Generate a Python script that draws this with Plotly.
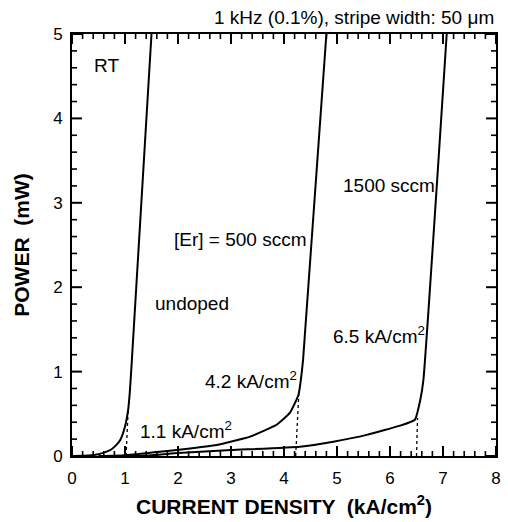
import numpy as np
import plotly.graph_objects as go

# L-I characteristics: output power vs. current density
undoped_j = [0.0, 0.3, 0.5, 0.72, 0.82, 0.91, 1.0, 1.06, 1.09, 1.13, 1.50]
undoped_p = [0.0, 0.005, 0.02, 0.07, 0.12, 0.19, 0.35, 0.55, 0.75, 1.14, 5.0]

er500_j = [0.5, 1.0, 1.5, 2.1, 2.73, 3.36, 3.86, 4.11, 4.27, 4.36, 4.80]
er500_p = [0.0, 0.01, 0.04, 0.08, 0.13, 0.23, 0.37, 0.51, 0.72, 1.14, 5.0]

er1500_j = [0.8, 1.5, 2.0, 3.0, 4.3, 4.93, 5.56, 6.19, 6.47, 6.57, 6.63, 7.07]
er1500_p = [0.0, 0.01, 0.035, 0.07, 0.11, 0.17, 0.25, 0.36, 0.43, 0.66, 0.90, 5.0]

# threshold extrapolations (dashed)
thr_undoped_j = [1.02, 1.06]
thr_undoped_p = [0.0, 0.55]
thr_500_j = [4.22, 4.28]
thr_500_p = [0.0, 0.74]
thr_1500_j = [6.50, 6.52]
thr_1500_p = [0.0, 0.45]

J_RANGE = [0, 8]
P_RANGE = [0, 5]
J_MAJOR, J_MINOR = 1.0, 0.2
P_MAJOR, P_MINOR = 1.0, 0.2

FONT = "Liberation Sans, Arial, Helvetica, sans-serif"

WIDTH, HEIGHT = 508, 522
MARGIN = dict(l=72, r=12, t=34, b=66)
plot_w = WIDTH - MARGIN["l"] - MARGIN["r"]
plot_h = HEIGHT - MARGIN["t"] - MARGIN["b"]
# data units per screen pixel along each axis
j_per_px = (J_RANGE[1] - J_RANGE[0]) / plot_w
p_per_px = (P_RANGE[1] - P_RANGE[0]) / plot_h

fig = go.Figure()
for j, p in [(undoped_j, undoped_p), (er500_j, er500_p), (er1500_j, er1500_p)]:
    fig.add_trace(go.Scatter(x=j, y=p, mode="lines",
                             line=dict(color="black", width=2, shape="spline", smoothing=0.4),
                             showlegend=False, hoverinfo="skip"))
for j, p in [(thr_undoped_j, thr_undoped_p), (thr_500_j, thr_500_p), (thr_1500_j, thr_1500_p)]:
    fig.add_trace(go.Scatter(x=j, y=p, mode="lines",
                             line=dict(color="black", width=1.3, dash="3px,3px"),
                             showlegend=False, hoverinfo="skip"))


def tick_values(rng, step):
    n = int(round((rng[1] - rng[0]) / step))
    return rng[0] + step * np.arange(n + 1)


def is_major(v, step):
    return abs(v / step - round(v / step)) < 1e-6


def inward_ticks(values, along, length_px, width):
    """Inward tick marks on both opposite sides of the frame, drawn as one line trace."""
    xs, ys = [], []
    for v in values:
        if along == "x":
            d = length_px * p_per_px
            for y0, y1 in ((P_RANGE[0], P_RANGE[0] + d), (P_RANGE[1], P_RANGE[1] - d)):
                xs += [v, v, None]
                ys += [y0, y1, None]
        else:
            d = length_px * j_per_px
            for x0, x1 in ((J_RANGE[0], J_RANGE[0] + d), (J_RANGE[1], J_RANGE[1] - d)):
                xs += [x0, x1, None]
                ys += [v, v, None]
    fig.add_trace(go.Scatter(x=xs, y=ys, mode="lines", connectgaps=False,
                             line=dict(color="black", width=width),
                             showlegend=False, hoverinfo="skip"))


j_all = tick_values(J_RANGE, J_MINOR)
p_all = tick_values(P_RANGE, P_MINOR)
inward_ticks([v for v in j_all if is_major(v, J_MAJOR)], "x", 10, 2.0)
inward_ticks([v for v in j_all if not is_major(v, J_MAJOR)], "x", 5, 1.6)
inward_ticks([v for v in p_all if is_major(v, P_MAJOR)], "y", 10, 2.0)
inward_ticks([v for v in p_all if not is_major(v, P_MAJOR)], "y", 5, 1.6)

labels = [
    (0.37, 4.63, "RT"),
    (1.52, 1.81, "undoped"),
    (1.88, 2.56, "[Er] = 500 sccm"),
    (5.07, 3.21, "1500 sccm"),
    (2.48, 0.90, "4.2 kA/cm<sup>2</sup>"),
    (1.25, 0.31, "1.1 kA/cm<sup>2</sup>"),
    (4.89, 1.43, "6.5 kA/cm<sup>2</sup>"),
]
for x, y, t in labels:
    fig.add_annotation(x=x, y=y, text=t, showarrow=False, xanchor="left", yanchor="middle",
                       font=dict(family=FONT, size=19, color="black"))

fig.add_annotation(x=1, y=1, xref="paper", yref="paper", xanchor="right", yanchor="bottom",
                   yshift=4, text="1 kHz (0.1%), stripe width: 50 μm", showarrow=False,
                   font=dict(family=FONT, size=19, color="black"))

axis_common = dict(
    ticks="", showline=True, linewidth=2, linecolor="black", mirror=True,
    showgrid=False, zeroline=False,
    tickfont=dict(family=FONT, size=17, color="black"),
)
fig.update_layout(
    xaxis=dict(range=J_RANGE, dtick=J_MAJOR, tick0=0, ticklabelstandoff=6,
               title=dict(text="<b>CURRENT DENSITY  (kA/cm<sup>2</sup>)</b>",
                          font=dict(family=FONT, size=21, color="black"), standoff=12),
               **axis_common),
    yaxis=dict(range=P_RANGE, dtick=P_MAJOR, tick0=0, ticklabelstandoff=4,
               title=dict(text="<b>POWER  (mW)</b>",
                          font=dict(family=FONT, size=21, color="black"), standoff=18),
               **axis_common),
    width=WIDTH, height=HEIGHT,
    margin=dict(**MARGIN, autoexpand=False),
    paper_bgcolor="white", plot_bgcolor="white",
)

fig.write_html("out.html")
